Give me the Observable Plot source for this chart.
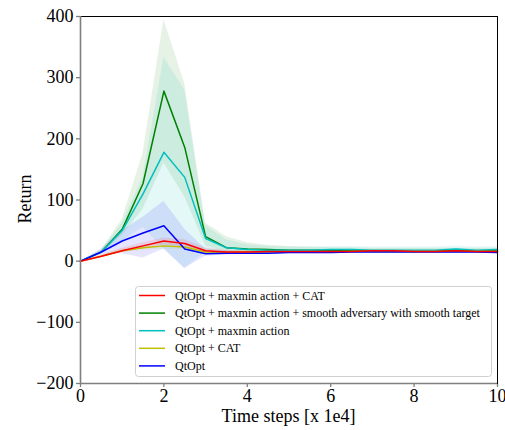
<!DOCTYPE html>
<html>
<head>
<meta charset="utf-8">
<script src="https://cdn.jsdelivr.net/npm/d3@7"></script>
<script src="https://cdn.jsdelivr.net/npm/@observablehq/plot@0.6"></script>
<style>
  html, body { margin: 0; padding: 0; background: white; }
  #chart svg, #chart svg text { font-family: "Liberation Serif", "Times New Roman", Times, "DejaVu Serif", serif !important; }
  #chart svg [aria-label="y-axis"] line, #chart svg [aria-label="x-axis"] line,
  #chart svg [aria-label="y-axis tick"] path, #chart svg [aria-label="x-axis tick"] path {
    stroke: #7f7f7f; stroke-width: 1.3;
  }
</style>
</head>
<body>
<div id="chart"></div>
<script>
// Time steps [x 1e4]
const steps = [0,0.5,1,1.5,2,2.5,3,3.5,4,4.5,5,5.5,6,6.5,7,7.5,8,8.5,9,9.5,10];

const seriesNames = [
  "QtOpt + maxmin action + CAT",
  "QtOpt + maxmin action + smooth adversary with smooth target",
  "QtOpt + maxmin action",
  "QtOpt + CAT",
  "QtOpt"
];
const seriesColors = ["#ff0000", "#008000", "#00bfbf", "#bfbf00", "#0000ff"];

// means
const redMean    = [0,8,17,25,33,29,17,15,15,16,16,16,16,16,17,17,16,16,17,16,16];
const greenMean  = [0,15,52,127,278,186,40,22,20,19,18,18,18,17,17,17,17,17,17,17,17];
const cyanMean   = [0,15,50,110,178,137,37,22,19,18,18,18,19,19,18,18,18,18,20,18,19];
const yellowMean = [0,8,17,22,25,23,15,14,15,15,15,15,15,16,16,16,16,16,16,16,16];
const blueMean   = [0,15,33,46,58,20,12,13,13,13,14,14,14,15,15,15,15,15,15,15,14];

// bands (low / high)
const redLo    = [0,6,14,20,27,23,13,13,13,14,14,14,14,14,15,15,14,14,15,14,14];
const redHi    = [0,10,21,30,38,35,22,18,17,18,18,18,18,18,19,19,18,18,19,18,18];
const greenLo  = [0,12,42,85,160,105,25,15,14,14,14,14,14,14,14,14,14,14,14,14,14];
const greenHi  = [0,18,68,176,395,290,62,40,30,26,24,23,22,22,21,21,21,21,21,21,21];
const cyanLo   = [0,12,32,55,20,-12,15,13,13,14,14,14,14,14,14,14,14,14,14,14,14];
const cyanHi   = [0,18,62,137,333,280,58,35,27,24,23,23,24,24,23,23,23,23,25,23,24];
const yellowLo = [0,6,14,18,20,18,12,12,13,13,13,13,13,14,14,14,14,14,14,14,14];
const yellowHi = [0,10,20,26,30,28,18,16,17,17,17,17,17,18,18,18,18,18,18,18,18];
const blueLo   = [0,10,12,5,20,-12,8,10,11,11,12,12,12,13,13,13,13,13,13,13,12];
const blueHi   = [0,20,50,72,98,52,20,17,16,16,16,16,16,17,17,17,17,17,17,17,16];

const yTicks = [-200,-100,0,100,200,300,400];
const xTicks = [0,2,4,6,8,10];

const means = [redMean, greenMean, cyanMean, yellowMean, blueMean];
const los = [redLo, greenLo, cyanLo, yellowLo, blueLo];
const his = [redHi, greenHi, cyanHi, yellowHi, blueHi];

const rows = [];
seriesNames.forEach((name, i) => {
  steps.forEach((x, j) => {
    rows.push({series: name, x, y: means[i][j], lo: los[i][j], hi: his[i][j]});
  });
});
// drawing order: green, cyan, yellow, blue, red (red on top)
const drawOrder = [1, 2, 3, 4, 0];

const marks = [];
drawOrder.forEach(i => {
  const d = rows.filter(r => r.series === seriesNames[i]);
  marks.push(Plot.areaY(d, {x: "x", y1: "lo", y2: "hi", fill: seriesColors[i], fillOpacity: 0.1}));
});
drawOrder.forEach(i => {
  const d = rows.filter(r => r.series === seriesNames[i]);
  marks.push(Plot.line(d, {x: "x", y: "y", stroke: seriesColors[i], strokeWidth: 1.5}));
});
marks.push(Plot.frame({stroke: "black", strokeWidth: 1}));
marks.push(Plot.ruleX([0], {stroke: "#7f7f7f", strokeWidth: 1.6}));
marks.push(Plot.ruleY([-200], {stroke: "#7f7f7f", strokeWidth: 1.6}));

const FONT = "'Liberation Serif', 'Times New Roman', Times, 'DejaVu Serif', serif";

const chart = Plot.plot({
  width: 505,
  height: 430,
  marginLeft: 80,
  marginRight: 8,
  marginTop: 16,
  marginBottom: 47,
  style: {background: "white", fontFamily: FONT, fontSize: "18px", color: "black", overflow: "visible"},
  x: {domain: [0, 10], ticks: xTicks, tickSize: 4, tickPadding: 2, label: null},
  y: {domain: [-200, 400], ticks: yTicks, tickSize: 4, tickPadding: 3, label: null},
  marks
});
document.getElementById("chart").appendChild(chart);

// axis titles and legend
const svg = d3.select(chart);
svg.attr("font-family", FONT).attr("font-size", 18);
svg.selectAll("g[aria-label$='axis'], g[aria-label$='tick label']").attr("font-family", FONT).attr("font-size", 18);
svg.append("text")
  .attr("x", 288.5).attr("y", 422)
  .attr("text-anchor", "middle")
  .attr("font-size", 18)
  .attr("fill", "black")
  .text("Time steps [x 1e4]");
svg.append("text")
  .attr("transform", "translate(31,199) rotate(-90)")
  .attr("text-anchor", "middle")
  .attr("font-size", 18)
  .attr("fill", "black")
  .text("Return");

const lg = svg.append("g").attr("font-size", 12).attr("text-anchor", "start");
lg.append("rect")
  .attr("x", 135.5).attr("y", 286.5).attr("width", 356).attr("height", 90)
  .attr("rx", 3).attr("fill", "white").attr("fill-opacity", 0.85)
  .attr("stroke", "#d0d0d0").attr("stroke-width", 1);
seriesNames.forEach((name, i) => {
  const cy = 295.5 + i * 17.6;
  lg.append("line").attr("x1", 139).attr("x2", 165).attr("y1", cy).attr("y2", cy)
    .attr("stroke", seriesColors[i]).attr("stroke-width", 1.5);
  lg.append("text").attr("x", 175).attr("y", cy + 4).attr("fill", "black")
    .attr("text-anchor", "start").style("font-size", "12px").text(name);
});
svg.selectAll("text").style("font-family", FONT);
</script>
</body>
</html>
